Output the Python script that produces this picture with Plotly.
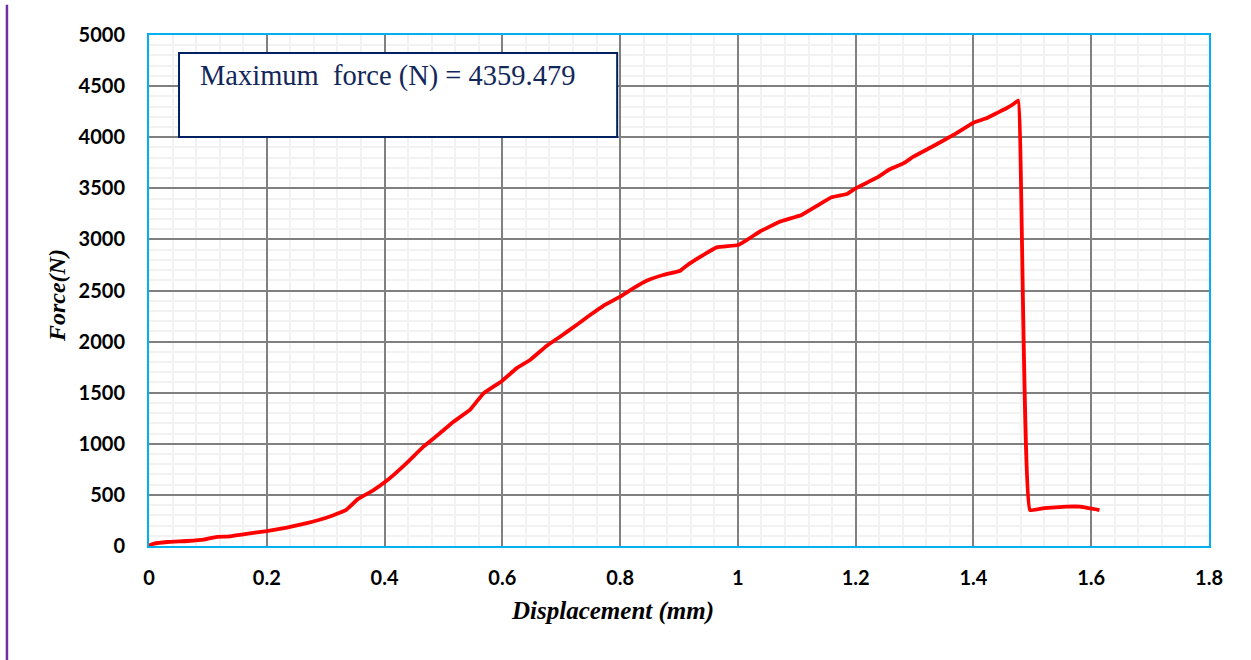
import plotly.graph_objects as go

displacement = [0.0, 0.0085, 0.031, 0.065, 0.093, 0.113, 0.138, 0.16, 0.2, 0.234,
                0.268, 0.301, 0.335, 0.355, 0.38, 0.404, 0.437, 0.466, 0.494, 0.517,
                0.545, 0.568, 0.6, 0.624, 0.647, 0.675, 0.698, 0.726, 0.749, 0.771,
                0.8, 0.822, 0.845, 0.873, 0.902, 0.916, 0.941, 0.964, 1.0, 1.015,
                1.037, 1.071, 1.108, 1.134, 1.159, 1.185, 1.2, 1.236, 1.258, 1.281,
                1.298, 1.332, 1.366, 1.4, 1.422, 1.439, 1.456, 1.468, 1.476, 1.496,
                1.52, 1.558, 1.581, 1.614]
force = [5, 23, 39, 49, 62, 88, 94, 114, 146, 179,
         224, 276, 354, 461, 542, 640, 809, 972, 1103, 1216,
         1331, 1494, 1618, 1738, 1820, 1957, 2048, 2162, 2260, 2348,
         2439, 2521, 2596, 2652, 2694, 2756, 2847, 2922, 2945, 2994,
         3075, 3173, 3239, 3327, 3412, 3444, 3500, 3604, 3686, 3744,
         3809, 3914, 4022, 4142, 4185, 4234, 4283, 4325, 4359.479, 352,
         370, 385, 385, 352]

x_ticks = [0, 0.2, 0.4, 0.6, 0.8, 1, 1.2, 1.4, 1.6, 1.8]
y_ticks = [0, 500, 1000, 1500, 2000, 2500, 3000, 3500, 4000, 4500, 5000]
x_title = "Displacement (mm)"
y_title = "Force(N)"
max_label = "Maximum  force (N) = 4359.479"

fig = go.Figure()
fig.add_trace(go.Scatter(x=displacement, y=force, mode="lines",
                         line=dict(color="#ff0000", width=3.8, shape="spline", smoothing=0.3),
                         showlegend=False))

tickfont = dict(family="Lato, 'Open Sans', sans-serif", size=20, color="#000000", weight="bold")
serif = "'Liberation Serif', 'Times New Roman', serif"

fig.update_xaxes(range=[0, 1.8], tickvals=x_ticks, ticktext=[f"{v:g}" for v in x_ticks],
                 showgrid=True, gridcolor="#808080", gridwidth=2,
                 minor=dict(dtick=0.04, showgrid=True, gridcolor="#f2f2f2", gridwidth=2),
                 showline=True, linecolor="#00b0f0", linewidth=2, mirror=True,
                 zeroline=False, ticks="", tickfont=tickfont, ticklabelstandoff=13)
fig.update_yaxes(range=[0, 5000], tickvals=y_ticks, ticktext=[str(v) for v in y_ticks],
                 showgrid=True, gridcolor="#808080", gridwidth=2,
                 minor=dict(dtick=100, showgrid=True, gridcolor="#f2f2f2", gridwidth=2),
                 showline=True, linecolor="#00b0f0", linewidth=2, mirror=True,
                 zeroline=False, ticks="", tickfont=tickfont, ticklabelstandoff=18)

# axis titles
fig.add_annotation(xref="paper", yref="paper", x=0.4368, y=-0.127, xanchor="center", yanchor="middle",
                   text=f"<b><i>{x_title}</i></b>", showarrow=False,
                   font=dict(family=serif, size=25, color="#000000"))
fig.add_annotation(xref="paper", yref="paper", x=-0.0868, y=0.491, xanchor="center", yanchor="middle",
                   text=f"<b><i>{y_title}</i></b>", showarrow=False, textangle=-90,
                   font=dict(family=serif, size=24, color="#000000"))

# annotation box
fig.add_shape(type="rect", xref="x", yref="y", x0=0.051, x1=0.795, y0=4002, y1=4824,
              line=dict(color="#002060", width=2), fillcolor="#ffffff", layer="above")
fig.add_annotation(xref="x", yref="y", x=0.084, y=4600, xanchor="left", yanchor="middle",
                   text=max_label, showarrow=False,
                   font=dict(family=serif, size=28.5, color="#12275a"))

# purple vertical line at left
fig.add_shape(type="line", xref="paper", yref="paper", x0=-0.134, x1=-0.134, y0=-0.223, y1=1.059,
              line=dict(color="#7030a0", width=2.5))

fig.update_layout(width=1251, height=660, paper_bgcolor="#ffffff", plot_bgcolor="#ffffff",
                  margin=dict(l=149, r=42, t=35, b=114))

fig.write_html("out.html")
